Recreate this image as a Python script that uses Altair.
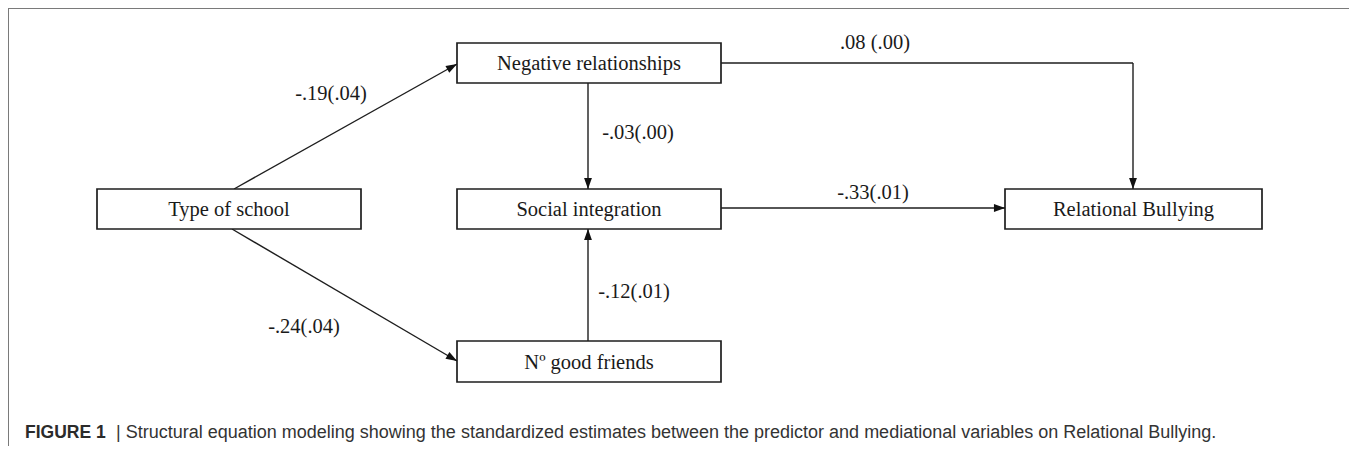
import math
import altair as alt
import pandas as pd

# ---------------- data ----------------
node_names = ["Type of school", "Negative relationships", "Social integration",
              "Nº good friends", "Relational Bullying"]
edge_from = ["Type of school", "Type of school", "Negative relationships",
             "Nº good friends", "Social integration", "Negative relationships"]
edge_to = ["Negative relationships", "Nº good friends", "Social integration",
           "Social integration", "Relational Bullying", "Relational Bullying"]
edge_labels = ["-.19(.04)", "-.24(.04)", "-.03(.00)", "-.12(.01)", "-.33(.01)", ".08 (.00)"]
caption_bold = "FIGURE 1"
caption_rest = "| Structural equation modeling showing the standardized estimates between the predictor and mediational variables on Relational Bullying."

# ---------------- layout (pixel coordinates of the diagram) ----------------
W, H = 1341, 438
X0, Y0 = 8, 8
node_x0 = [97, 457, 457, 457, 1005]
node_x1 = [361, 721, 721, 721, 1262]
node_y0 = [189, 43, 189, 341, 189]
node_y1 = [229, 83, 229, 382, 229]
# polyline route of each edge
edge_route = [
    [(234, 189), (457, 64)],
    [(232, 229), (457, 361)],
    [(588, 83), (588, 189)],
    [(588, 341), (588, 229)],
    [(721, 208), (1005, 208)],
    [(721, 63), (1133, 63), (1133, 189)],
]
label_pos = [(331, 94), (304, 327), (638, 133), (634, 292), (873, 193), (875, 43)]

# ---------------- tables ----------------
nodes = pd.DataFrame({
    "name": node_names,
    "x0": node_x0, "x1": node_x1, "y0": node_y0, "y1": node_y1,
})
nodes["cx"] = (nodes.x0 + nodes.x1) / 2
nodes["cy"] = (nodes.y0 + nodes.y1) / 2

seg_rows, head_rows = [], []
for f, t, route in zip(edge_from, edge_to, edge_route):
    for (ax, ay), (bx, by) in zip(route[:-1], route[1:]):
        seg_rows.append({"from": f, "to": t, "x": ax, "y": ay, "x2": bx, "y2": by})
    (ax, ay), (bx, by) = route[-2], route[-1]
    dx, dy = bx - ax, by - ay
    L = math.hypot(dx, dy)
    ux, uy = dx / L, dy / L
    ang = math.degrees(math.atan2(dx, -dy)) % 360
    head_rows.append({"x": bx - 5.5 * ux, "y": by - 5.5 * uy, "angle": ang})
segs = pd.DataFrame(seg_rows)
heads = pd.DataFrame(head_rows)

labels = pd.DataFrame({
    "text": edge_labels,
    "x": [p[0] for p in label_pos],
    "y": [p[1] for p in label_pos],
})

frame = pd.DataFrame({
    "x": [8, 8, 1350], "y": [8, 8, 8],
    "x2": [1350, 8, 1350], "y2": [8, 470, 470],
})

caption = pd.DataFrame({
    "text": [caption_bold, caption_rest],
    "x": [25, 116],
    "y": [438, 438],
    "weight": ["bold", "normal"],
})

xs = alt.Scale(domain=[X0, X0 + W], nice=False, zero=False)
ys = alt.Scale(domain=[Y0, Y0 + H], nice=False, zero=False, reverse=True)


def X(f):
    return alt.X(f"{f}:Q", scale=xs, axis=None)


def Y(f):
    return alt.Y(f"{f}:Q", scale=ys, axis=None)


frame_layer = alt.Chart(frame).mark_rule(color="#7a7a7a", strokeWidth=2, clip=False).encode(
    x=X("x"), y=Y("y"), x2="x2", y2="y2")

seg_layer = alt.Chart(segs).mark_rule(color="#1e1e1e", strokeWidth=1.4).encode(
    x=X("x"), y=Y("y"), x2="x2", y2="y2")

head_layer = alt.Chart(heads).mark_point(
    shape="M0,-1L0.7,1L-0.7,1Z", filled=True, color="#111111", size=125, opacity=1
).encode(x=X("x"), y=Y("y"), angle=alt.Angle("angle:Q", scale=None))

box_layer = alt.Chart(nodes).mark_rect(fill="white", stroke="#1e1e1e", strokeWidth=1.7).encode(
    x=X("x0"), x2="x1", y=Y("y0"), y2="y1")

node_text = alt.Chart(nodes).mark_text(
    font="Liberation Serif", fontSize=20.5, color="#1a1a1a", align="center", baseline="middle", dy=1
).encode(x=X("cx"), y=Y("cy"), text="name:N")

label_text = alt.Chart(labels).mark_text(
    font="Liberation Serif", fontSize=20.5, color="#1a1a1a", align="center", baseline="middle"
).encode(x=X("x"), y=Y("y"), text="text:N")

cap_bold = alt.Chart(caption[caption.weight == "bold"]).mark_text(
    font="Liberation Sans", fontSize=17.5, fontWeight="bold", color="#2b2b2b",
    align="left", baseline="alphabetic"
).encode(x=X("x"), y=Y("y"), text="text:N")

cap_rest = alt.Chart(caption[caption.weight == "normal"]).mark_text(
    font="Liberation Sans", fontSize=18, color="#333333", align="left", baseline="alphabetic"
).encode(x=X("x"), y=Y("y"), text="text:N")

chart = alt.layer(
    frame_layer, seg_layer, box_layer, head_layer, node_text, label_text, cap_bold, cap_rest
).properties(width=W, height=H, padding=0, autosize=alt.AutoSizeParams(type="none")
).configure_view(stroke=None).configure(background="white")

chart.save("out.html", embed_options={"renderer": "svg", "actions": False})
